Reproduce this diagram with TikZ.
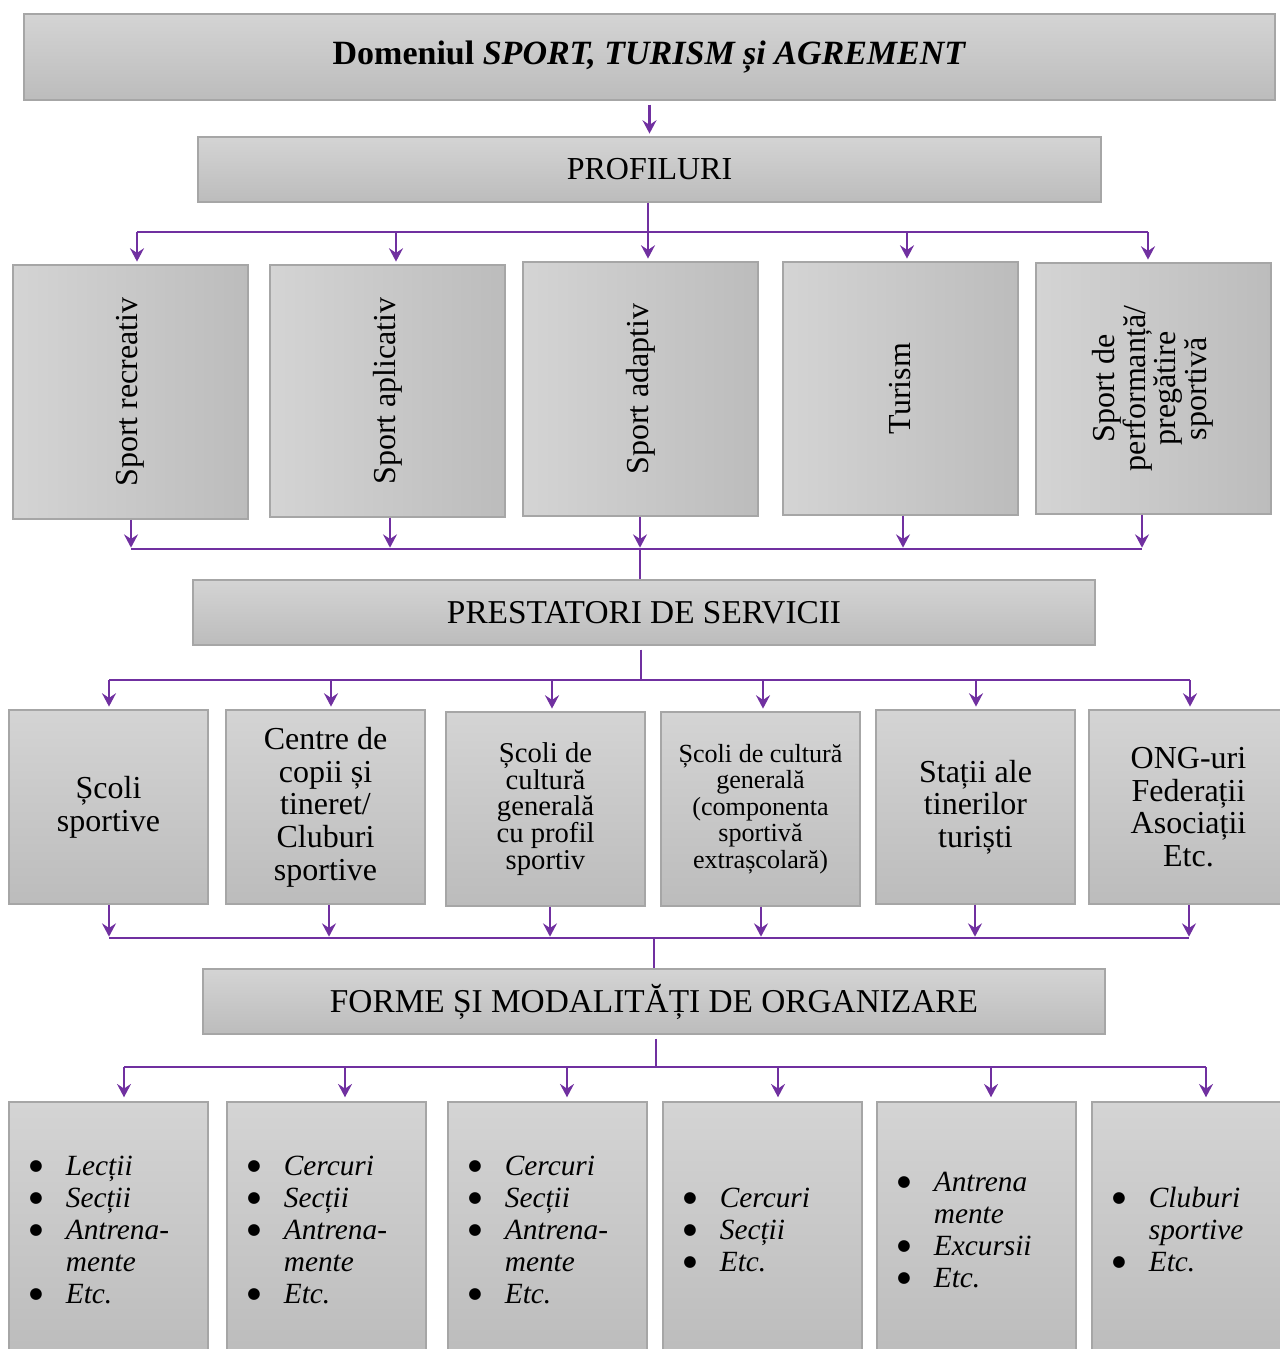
\documentclass[tikz,border=0pt]{standalone}
\usepackage{fontspec}
\setmainfont{Liberation Serif}
\newfontfamily\symfont{DejaVu Sans}
\usepackage{graphicx}
\usetikzlibrary{arrows.meta}
\definecolor{vio}{HTML}{7030A0}
\definecolor{bord}{HTML}{A6A6A6}
\definecolor{gtop}{HTML}{D4D4D4}
\definecolor{gbot}{HTML}{BCBCBC}
\newcommand{\bul}{\raisebox{3.6pt}{\symfont\fontsize{11.5}{11.5}\selectfont ●}}
\begin{document}
\begin{tikzpicture}[x=0.75pt,y=-0.75pt,
  sz/.style 2 args={minimum width=#1*0.75pt, minimum height=#2*0.75pt},
  hbox/.style={draw=bord, line width=1.1pt, top color=gtop, bottom color=gbot, inner sep=0pt, align=center, font=\fontsize{24}{24.5}\selectfont},
  vbox/.style={draw=bord, line width=1.1pt, left color=gtop, right color=gbot, inner sep=0pt, align=center, font=\fontsize{24}{21.5}\selectfont},
  lst/.style={anchor=west, inner sep=0pt, xshift=15.6pt, yshift=-3pt, font=\fontsize{22}{24}\selectfont},
  arr/.style={draw=vio, line width=1.9pt, -{Stealth[length=10pt,width=10.5pt,inset=3.5pt]}},
  bus/.style={draw=vio, line width=1.6pt},
  stem/.style={draw=vio, line width=1pt}
]
\useasboundingbox (0,0) rectangle (1279,1349);

% ---- boxes ----
\node[hbox, sz={1251}{86}, font=\bfseries\fontsize{25.5}{26}\selectfont] (title) at (649.5,57)
  {Domeniul \textit{SPORT, TURISM și AGREMENT}};
\node[hbox, sz={903}{65}] (prof) at (649.5,169.5) {PROFILURI};

\node[vbox, sz={235}{254}] (p1) at (130.5,392) {\rotatebox{90}{Sport recreativ}};
\node[vbox, sz={235}{252}] (p2) at (387.5,391) {\rotatebox{90}{Sport aplicativ}};
\node[vbox, sz={235}{254}] (p3) at (640.5,389) {\rotatebox{90}{Sport adaptiv}};
\node[vbox, sz={235}{253}] (p4) at (900.5,388.5) {\rotatebox{90}{Turism}};
\node[vbox, sz={235}{251}] (p5) at (1153.5,388.5)
  {\rotatebox{90}{\begin{tabular}{@{}c@{}}Sport de\\performanță/\\pregătire\\sportivă\end{tabular}}};

\node[hbox, sz={902}{65}, font=\fontsize{25}{25}\selectfont] (prest) at (644,612.5) {PRESTATORI DE SERVICII};

\node[hbox, sz={199}{194}] (s1) at (108.5,807) {Școli\\sportive};
\node[hbox, sz={199}{194}] (s2) at (325.5,807) {Centre de\\copii și\\tineret/\\Cluburi\\sportive};
\node[hbox, sz={199}{194}, font=\fontsize{21.5}{20}\selectfont] (s3) at (545.5,809) {Școli de\\cultură\\generală\\cu profil\\sportiv};
\node[hbox, sz={199}{194}, font=\fontsize{19.6}{19.9}\selectfont] (s4) at (760.5,809) {Școli de cultură\\generală\\(componenta\\sportivă\\extrașcolară)};
\node[hbox, sz={199}{194}] (s5) at (975.5,807) {Stații ale\\tinerilor\\turiști};
\node[hbox, sz={199}{194}] (s6) at (1188.5,807) {ONG-uri\\Federații\\Asociații\\Etc.};

\node[hbox, sz={902}{65}, font=\fontsize{25}{25}\selectfont] (forme) at (654,1001.5) {FORME ȘI MODALITĂȚI DE ORGANIZARE};

\node[hbox, sz={199}{254}] (f1) at (108.5,1229) {};
\node[hbox, sz={199}{254}] (f2) at (326.5,1229) {};
\node[hbox, sz={199}{254}] (f3) at (547.5,1229) {};
\node[hbox, sz={199}{254}] (f4) at (762.5,1229) {};
\node[hbox, sz={199}{254}] (f5) at (976.5,1229) {};
\node[hbox, sz={199}{254}] (f6) at (1191.5,1229) {};

\node[lst] (l1) at (f1.west) {\begin{tabular}{@{}p{27.4pt}@{}l@{}}
\bul & \textit{Lecții}\\ \bul & \textit{Secții}\\ \bul & \textit{Antrena-}\\ & \textit{mente}\\ \bul & \textit{Etc.}\end{tabular}};
\node[lst] (l2) at (f2.west) {\begin{tabular}{@{}p{27.4pt}@{}l@{}}
\bul & \textit{Cercuri}\\ \bul & \textit{Secții}\\ \bul & \textit{Antrena-}\\ & \textit{mente}\\ \bul & \textit{Etc.}\end{tabular}};
\node[lst] (l3) at (f3.west) {\begin{tabular}{@{}p{27.4pt}@{}l@{}}
\bul & \textit{Cercuri}\\ \bul & \textit{Secții}\\ \bul & \textit{Antrena-}\\ & \textit{mente}\\ \bul & \textit{Etc.}\end{tabular}};
\node[lst] (l4) at (f4.west) {\begin{tabular}{@{}p{27.4pt}@{}l@{}}
\bul & \textit{Cercuri}\\ \bul & \textit{Secții}\\ \bul & \textit{Etc.}\end{tabular}};
\node[lst] (l5) at (f5.west) {\begin{tabular}{@{}p{27.4pt}@{}l@{}}
\bul & \textit{Antrena}\\ & \textit{mente}\\ \bul & \textit{Excursii}\\ \bul & \textit{Etc.}\end{tabular}};
\node[lst] (l6) at (f6.west) {\begin{tabular}{@{}p{27.4pt}@{}l@{}}
\bul & \textit{Cluburi}\\ & \textit{sportive}\\ \bul & \textit{Etc.}\end{tabular}};

% ---- connectors ----
\draw[arr] ([yshift=-3pt]title.south) -- ([yshift=2pt]prof.north);

\coordinate (j1) at (648,232);
\coordinate (j1l) at (137,232);
\coordinate (j1r) at (1148,232);
\draw[stem] (prof.south -| j1) -- (j1);
\draw[bus] (j1l) -- (j1r);
\foreach \x/\n in {137/p1,396/p2,648/p3,907/p4,1148/p5}{
  \coordinate (t) at (\x,232);
  \draw[arr, shorten >=2pt] (t) -- (t |- \n.north);
}

\coordinate (j2) at (640,549);
\coordinate (j2l) at (131,549);
\coordinate (j2r) at (1142,549);
\foreach \x/\n in {131/p1,390/p2,640/p3,903/p4,1142/p5}{
  \coordinate (t) at (\x,549);
  \draw[arr, shorten >=1pt] (t |- \n.south) -- (t);
}
\draw[bus] (j2l) -- (j2r);
\draw[stem] (j2) -- (j2 |- prest.north);

\coordinate (j3) at (641,680);
\coordinate (j3l) at (109,680);
\coordinate (j3r) at (1190,680);
\draw[stem] ([yshift=-3pt]prest.south -| j3) -- (j3);
\draw[bus] (j3l) -- (j3r);
\foreach \x/\n in {109/s1,331/s2,552/s3,763/s4,976/s5,1190/s6}{
  \coordinate (t) at (\x,680);
  \draw[arr, shorten >=2pt] (t) -- (t |- \n.north);
}

\coordinate (j4) at (654,938);
\coordinate (j4l) at (109,938);
\coordinate (j4r) at (1189,938);
\foreach \x/\n in {109/s1,329/s2,550/s3,761/s4,975/s5,1189/s6}{
  \coordinate (t) at (\x,938);
  \draw[arr, shorten >=1pt] (t |- \n.south) -- (t);
}
\draw[bus] (j4l) -- (j4r);
\draw[stem] (j4) -- (j4 |- forme.north);

\coordinate (j5) at (656,1067);
\coordinate (j5l) at (124,1067);
\coordinate (j5r) at (1206,1067);
\draw[stem] ([yshift=-3pt]forme.south -| j5) -- (j5);
\draw[bus] (j5l) -- (j5r);
\foreach \x/\n in {124/f1,345/f2,567/f3,778/f4,991/f5,1206/f6}{
  \coordinate (t) at (\x,1067);
  \draw[arr, shorten >=3pt] (t) -- (t |- \n.north);
}
\end{tikzpicture}
\end{document}
